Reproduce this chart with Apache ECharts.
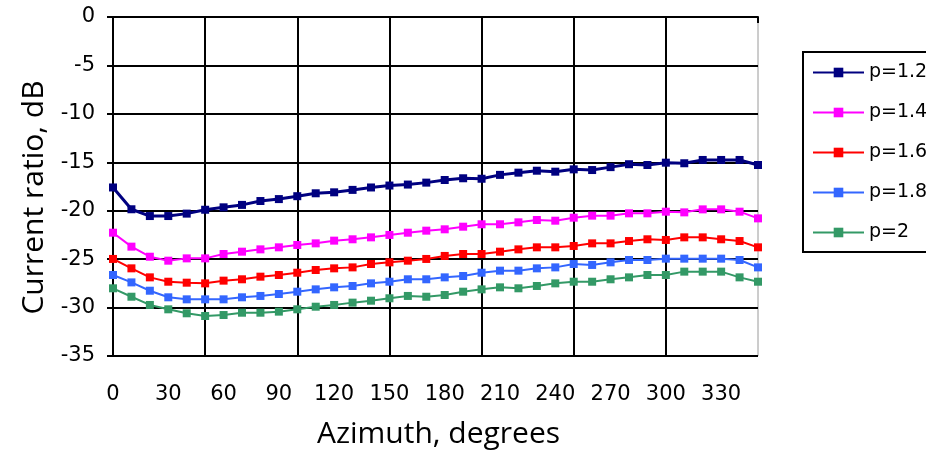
<!DOCTYPE html>
<html>
<head>
<meta charset="utf-8">
<script src="https://cdn.jsdelivr.net/npm/echarts@6/dist/echarts.min.js"></script>
<style>html,body{margin:0;padding:0;background:#fff}#c{width:926px;height:459px}</style>
</head>
<body>
<div id="c"></div>
<script>
var azimuth = [0,10,20,30,40,50,60,70,80,90,100,110,120,130,140,150,160,170,180,190,200,210,220,230,240,250,260,270,280,290,300,310,320,330,340,350];
var p12 = [-17.6,-19.85,-20.55,-20.55,-20.3,-19.9,-19.65,-19.4,-19.0,-18.8,-18.5,-18.2,-18.1,-17.85,-17.6,-17.4,-17.3,-17.1,-16.83,-16.65,-16.7,-16.3,-16.07,-15.87,-15.97,-15.73,-15.8,-15.5,-15.2,-15.28,-15.04,-15.1,-14.76,-14.76,-14.76,-15.28];
var p14 = [-22.27,-23.71,-24.75,-25.16,-24.92,-24.92,-24.47,-24.23,-23.99,-23.78,-23.54,-23.37,-23.09,-22.95,-22.75,-22.5,-22.27,-22.06,-21.92,-21.65,-21.4,-21.4,-21.2,-20.96,-21.03,-20.72,-20.51,-20.51,-20.27,-20.27,-20.1,-20.17,-19.86,-19.86,-20.1,-20.79];
var p16 = [-24.98,-25.95,-26.88,-27.33,-27.43,-27.5,-27.22,-27.08,-26.81,-26.64,-26.4,-26.12,-25.95,-25.85,-25.5,-25.33,-25.16,-24.98,-24.67,-24.47,-24.47,-24.23,-23.99,-23.78,-23.78,-23.64,-23.37,-23.37,-23.13,-22.95,-23.02,-22.75,-22.75,-22.95,-23.13,-23.78];
var p18 = [-26.64,-27.4,-28.26,-28.94,-29.15,-29.15,-29.15,-28.94,-28.8,-28.6,-28.36,-28.12,-27.91,-27.77,-27.5,-27.33,-27.08,-27.08,-26.88,-26.74,-26.4,-26.19,-26.19,-25.95,-25.85,-25.5,-25.6,-25.33,-25.09,-25.09,-24.95,-24.95,-24.95,-24.95,-25.09,-25.85];
var p20 = [-28.01,-28.88,-29.73,-30.18,-30.59,-30.87,-30.77,-30.53,-30.53,-30.42,-30.18,-29.91,-29.73,-29.49,-29.29,-29.04,-28.8,-28.88,-28.7,-28.36,-28.12,-27.91,-28.01,-27.77,-27.5,-27.33,-27.33,-27.08,-26.88,-26.64,-26.64,-26.29,-26.29,-26.29,-26.88,-27.33];
var seriesNames = ['p=1.2','p=1.4','p=1.6','p=1.8','p=2'];
var seriesColors = ['#000080','#ff00ff','#ff0000','#3366ff','#339966'];
var seriesData = [p12,p14,p16,p18,p20];

var chart = echarts.init(document.getElementById('c'));
var labelFont = {fontFamily:'DejaVu Sans', fontSize:21, color:'#000'};
chart.setOption({
  animation:false,
  grid:{left:113, top:17, right:168, bottom:103, show:true, borderColor:'#9a9a9a', borderWidth:1},
  legend:{
    orient:'vertical', left:803, top:52,
    padding:[11,80,10,9],
    itemWidth:51, itemHeight:12, itemGap:21,
    borderColor:'#000', borderWidth:2,
    textStyle:{fontFamily:'DejaVu Sans', fontSize:19, lineHeight:19, color:'#000'},
    data:seriesNames
  },
  xAxis:{
    type:'category', data:azimuth, boundaryGap:false,
    name:'Azimuth, degrees', nameLocation:'middle', nameGap:63,
    nameTextStyle:{fontFamily:'Open Sans', fontSize:30, color:'#000', padding:[0,0,0,6]},
    axisLine:{show:true, lineStyle:{color:'#000', width:2}},
    axisTick:{show:true, length:6, interval:function(i){return i%5===0;}, lineStyle:{color:'#000', width:2}},
    axisLabel:Object.assign({interval:function(i){return i%3===0;}, margin:28}, labelFont),
    splitLine:{show:true, interval:function(i){return i%5===0 && i!==35;}, lineStyle:{color:'#000', width:2}}
  },
  yAxis:{
    type:'value', min:-35, max:0, interval:5,
    name:'Current ratio, dB', nameLocation:'middle', nameGap:62,
    nameTextStyle:{fontFamily:'Open Sans', fontSize:30, color:'#000', padding:[0,22,0,0]},
    axisLine:{show:true, lineStyle:{color:'#000', width:2}},
    axisTick:{show:true, length:6, lineStyle:{color:'#000', width:2}},
    axisLabel:Object.assign({margin:18}, labelFont),
    splitLine:{show:true, lineStyle:{color:['#000','#000','#000','#000','#000','#000','#000','#9a9a9a'], width:2}}
  },
  series:seriesNames.map(function(n,i){
    return {name:n, type:'line', data:seriesData[i], symbol:'rect', symbolSize:8,
      itemStyle:{color:seriesColors[i]}, lineStyle:{color:seriesColors[i], width:i===0?3:2}};
  })
});
</script>
</body>
</html>
